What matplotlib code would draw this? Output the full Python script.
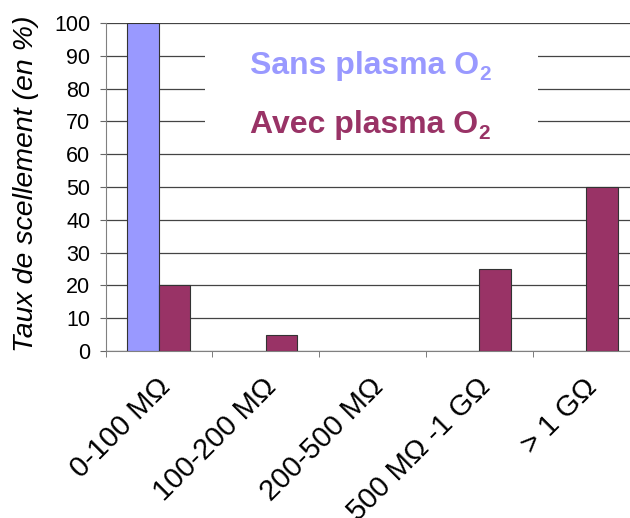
import matplotlib.pyplot as plt
from matplotlib.patches import Rectangle
import numpy as np

categories = ['0-100 MΩ', '100-200 MΩ', '200-500 MΩ', '500 MΩ -1 GΩ', '> 1 GΩ']
sans_plasma = [100, 0, 0, 0, 0]
avec_plasma = [20, 5, 0, 25, 50]
yticks = [0, 10, 20, 30, 40, 50, 60, 70, 80, 90, 100]

blue = '#9999ff'
maroon = '#993366'

plt.rcParams['font.family'] = ['Liberation Sans', 'DejaVu Sans']

fig = plt.figure(figsize=(6.3, 5.18), dpi=100)
ax = fig.add_axes([0.1675, 0.3224, 0.8475, 0.6332])

x = np.arange(len(categories))
w = 0.295

def edges(vals):
    return ['#333333' if v > 0 else 'none' for v in vals]

ax.bar(x - w / 2, sans_plasma, w, color=blue, edgecolor=edges(sans_plasma), linewidth=0.8, zorder=3)
ax.bar(x + w / 2, avec_plasma, w, color=maroon, edgecolor=edges(avec_plasma), linewidth=0.8, zorder=3)

ax.set_xlim(-0.5, len(categories) - 0.5)
ax.set_ylim(0, 100)
ax.set_yticks(yticks)
ax.yaxis.grid(True, color='#444444', linewidth=0.9, zorder=0)
ax.set_axisbelow(True)

# category boundaries get the tick marks, labels sit at the centres
ax.set_xticks(x - 0.03)
ax.set_xticklabels(categories, rotation=45, ha='right', rotation_mode='anchor', fontsize=21)
ax.set_xticks(np.arange(-0.5, len(categories)), minor=True)
ax.tick_params(axis='x', which='major', length=0, pad=16)
ax.tick_params(axis='x', which='minor', length=4, color='#666666', direction='out')
ax.tick_params(axis='y', length=4, color='#666666', labelsize=15.5, pad=7)

for s in ['top', 'right']:
    ax.spines[s].set_visible(False)
ax.spines['left'].set_color('#808080')
ax.spines['bottom'].set_color('#808080')

ax.set_ylabel('Taux de scellement (en %)', fontsize=20.5, style='italic')
ax.yaxis.set_label_coords(-0.125, 0.51)

# white panel behind the legend text
ax.add_patch(Rectangle((0.186, 0.63), 0.624, 0.33, transform=ax.transAxes,
                       facecolor='white', edgecolor='none', zorder=1))
for label, col, ypos in [('Sans plasma O', blue, 0.845), ('Avec plasma O', maroon, 0.665)]:
    t = ax.text(0.27, ypos, label, transform=ax.transAxes, fontsize=23,
                fontweight='bold', color=col, va='baseline', zorder=4)
    ax.annotate('2', xy=(1, 0), xycoords=t, xytext=(0.5, 0.5), textcoords='offset points',
                fontsize=15, fontweight='bold', color=col, va='baseline', ha='left', zorder=4)

fig.savefig('out.png', dpi=100)
